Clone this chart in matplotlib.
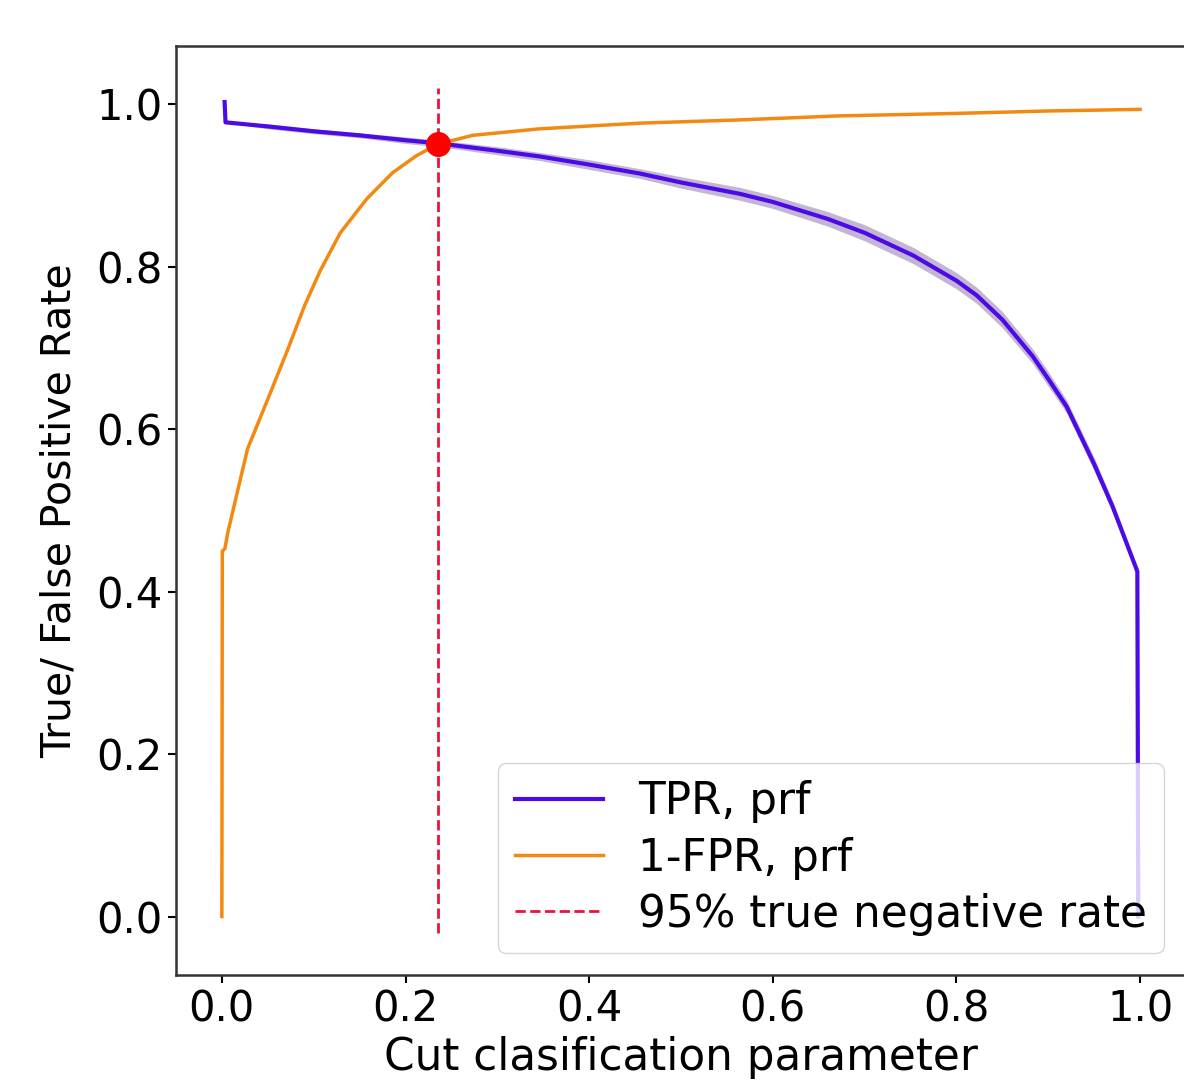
import numpy as np
import matplotlib
matplotlib.use('Agg')
import matplotlib.pyplot as plt

# TPR curve (prf)
tpr_x = [0.003, 0.004, 0.05, 0.1, 0.15, 0.2, 0.237, 0.3, 0.346, 0.4, 0.455, 0.5,
         0.564, 0.6, 0.66, 0.7, 0.753, 0.8, 0.822, 0.85, 0.883, 0.9, 0.92, 0.95,
         0.97, 0.997, 0.998]
tpr_y = [1.003, 0.978, 0.973, 0.967, 0.962, 0.956, 0.952, 0.943, 0.936, 0.926,
         0.915, 0.904, 0.890, 0.880, 0.859, 0.842, 0.814, 0.783, 0.765, 0.735,
         0.690, 0.662, 0.628, 0.557, 0.505, 0.425, 0.0]
tpr_err = [0.0, 0.0, 0.003, 0.003, 0.003, 0.004, 0.004, 0.005, 0.005, 0.006,
           0.006, 0.007, 0.008, 0.008, 0.009, 0.010, 0.010, 0.010, 0.010, 0.010,
           0.009, 0.009, 0.008, 0.008, 0.007, 0.005, 0.0]

# 1-FPR curve (prf)
fpr_x = [0.0, 0.0005, 0.0033, 0.0065, 0.028, 0.05, 0.072, 0.09, 0.107, 0.129,
         0.158, 0.186, 0.212, 0.235, 0.273, 0.346, 0.455, 0.564, 0.673, 0.8, 0.9, 1.0]
fpr_y = [0.0, 0.45, 0.453, 0.473, 0.576, 0.637, 0.699, 0.752, 0.795, 0.842,
         0.884, 0.916, 0.937, 0.951, 0.962, 0.970, 0.977, 0.981, 0.986, 0.989,
         0.992, 0.994]

cut_value = 0.235
cut_rate = 0.951

fig = plt.figure(figsize=(11.84, 10.8), dpi=100)
ax = fig.add_axes([0.1486, 0.0972, 0.8531, 0.8602])

tx = np.array(tpr_x)
ty = np.array(tpr_y)
te = np.array(tpr_err)
ax.fill_between(tx, ty - te, ty + te, color='#7a5fa0', alpha=0.45, lw=0)
ax.plot(tx, ty, color='#4b0ae6', lw=3.0, label='TPR, prf')
ax.plot(fpr_x, fpr_y, color='#f28a12', lw=2.5, label='1-FPR, prf')
ax.vlines(cut_value, -0.02, 1.02, colors='#e8143c', linestyles='--', lw=2.0,
          label='95% true negative rate')
ax.plot([cut_value], [cut_rate], 'o', color='red', markersize=17, zorder=5)

ax.set_xlim(-0.05, 1.05)
ax.set_ylim(-0.072, 1.072)
ax.set_xticks([0.0, 0.2, 0.4, 0.6, 0.8, 1.0])
ax.set_yticks([0.0, 0.2, 0.4, 0.6, 0.8, 1.0])
ax.tick_params(labelsize=30, length=6, width=1.5)
for s in ax.spines.values():
    s.set_linewidth(1.8)
    s.set_color('#333333')
ax.set_xlabel('Cut clasification parameter', fontsize=31.5, labelpad=4)
ax.set_ylabel('True/ False Positive Rate', fontsize=29.5, labelpad=12)
ax.legend(loc='lower right', fontsize=31.5, handlelength=2.0, labelspacing=0.3)

fig.savefig('out.png', dpi=100)
